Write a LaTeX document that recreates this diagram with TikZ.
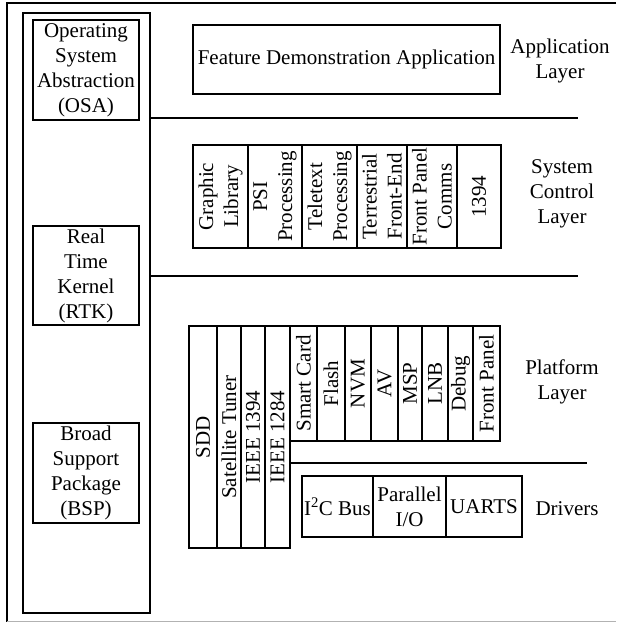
\documentclass[tikz,border=0pt]{standalone}
\usepackage{fontspec}
\setmainfont{Liberation Serif}
\begin{document}
\begin{tikzpicture}[x=1pt,y=-1pt,
  every node/.style={font=\fontsize{21}{25}\selectfont},
  bx/.style={draw, line width=1.2pt, inner sep=0pt, align=center},
  rbx/.style={bx, rotate=90},
  lbl/.style={align=center, inner sep=0pt},
  sep/.style={line width=1.2pt}]
\useasboundingbox (0,0) rectangle (616,623);
% outer frame
\coordinate (tl) at (7,3);
\coordinate (tr) at (616,3);
\coordinate (bl) at (7,622);
\coordinate (bl2) at (7,621.5);
\coordinate (br) at (616,621.5);
\draw[line width=1.3pt] (tr) -- (tl) -- (bl);
\draw[line width=1pt, gray!60] (bl2) -- (br);
% left column
\node[bx, minimum width=127pt, minimum height=600pt] (col) at (86.5,313) {};
\node[bx, minimum width=106pt, minimum height=100pt] (osa) at (86,70) {Operating\\System\\Abstraction\\(OSA)};
\node[bx, minimum width=106pt, minimum height=99pt] (rtk) at (86,275.5) {Real\\Time\\Kernel\\(RTK)};
\node[bx, minimum width=106pt, minimum height=100pt] (bsp) at (86,473) {Broad\\Support\\Package\\(BSP)};
% separators
\coordinate (s1a) at (150,118); \coordinate (s1b) at (578,118);
\coordinate (s2a) at (150,276); \coordinate (s2b) at (578,276);
\coordinate (s3a) at (290,463); \coordinate (s3b) at (587,463);
\draw[sep] (s1a) -- (s1b);
\draw[sep] (s2a) -- (s2b);
\draw[sep] (s3a) -- (s3b);
% application layer
\node[bx, minimum width=307pt, minimum height=69pt] (fda) at (346.5,59.5) {Feature Demonstration Application};
\node[lbl] (appl) at (560,61) {Application\\Layer};
% system control layer
\node[rbx, minimum width=103pt, minimum height=55pt] (gl) at (220.5,196.5) {Graphic\\Library};
\node[rbx, minimum width=103pt, minimum height=54pt] (psi) at (275,196.5) {PSI\\Processing};
\node[rbx, minimum width=103pt, minimum height=55pt] (ttx) at (329.5,196.5) {Teletext\\Processing};
\node[rbx, minimum width=103pt, minimum height=50pt] (tfe) at (382,196.5) {Terrestrial\\Front-End};
\node[rbx, minimum width=103pt, minimum height=50pt] (fpc) at (432,196.5) {Front Panel\\Comms};
\node[rbx, minimum width=103pt, minimum height=44pt] (s1394) at (479,196.5) {1394};
\node[lbl] (scl) at (562,194) {System\\Control\\Layer};
% platform layer
\node[rbx, minimum width=222pt, minimum height=28pt] (sdd) at (203,437) {SDD};
\node[rbx, minimum width=222pt, minimum height=24pt] (sat) at (229,437) {Satellite Tuner};
\node[rbx, minimum width=222pt, minimum height=24pt] (i1394) at (253,437) {IEEE 1394};
\node[rbx, minimum width=222pt, minimum height=25pt] (i1284) at (277.5,437) {IEEE 1284};
\node[rbx, minimum width=115pt, minimum height=27pt] (sc) at (303.5,383.5) {Smart Card};
\node[rbx, minimum width=115pt, minimum height=28pt] (fl) at (331,383.5) {Flash};
\node[rbx, minimum width=115pt, minimum height=26pt] (nvm) at (358,383.5) {NVM};
\node[rbx, minimum width=115pt, minimum height=27pt] (av) at (384.5,383.5) {AV};
\node[rbx, minimum width=115pt, minimum height=24pt] (msp) at (410,383.5) {MSP};
\node[rbx, minimum width=115pt, minimum height=26pt] (lnb) at (435,383.5) {LNB};
\node[rbx, minimum width=115pt, minimum height=25pt] (dbg) at (460.5,383.5) {Debug};
\node[rbx, minimum width=115pt, minimum height=27pt] (fp) at (486.5,383.5) {Front Panel};
\node[lbl] (pl) at (562,382) {Platform\\Layer};
% drivers
\node[bx, minimum width=71pt, minimum height=61pt] (i2c) at (337.5,506.5) {I\textsuperscript{2}C Bus};
\node[bx, minimum width=73pt, minimum height=61pt] (pio) at (409.5,506.5) {Parallel\\I/O};
\node[bx, minimum width=76pt, minimum height=61pt] (uarts) at (484,506.5) {UARTS};
\node[lbl] (drv) at (567,509) {Drivers};
\end{tikzpicture}
\end{document}
